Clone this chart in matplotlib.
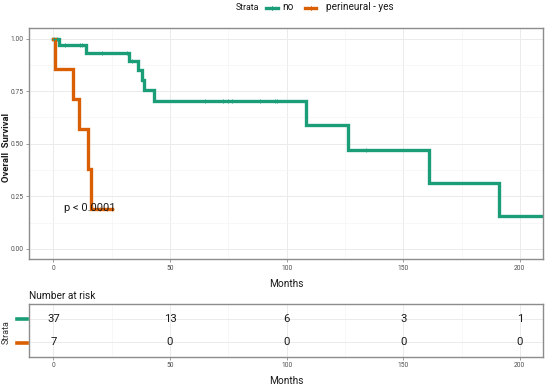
import numpy as np
import matplotlib
matplotlib.use("Agg")
import matplotlib.pyplot as plt
from matplotlib.lines import Line2D

plt.rcParams['font.family'] = ['Roboto', 'DejaVu Sans']

# Kaplan-Meier steps
no_times = [0, 2.6, 13.9, 32.4, 36.3, 38.0, 39.0, 43.2, 108.2, 126.5, 160.9, 191.0, 215]
no_surv = [1.0, 0.97, 0.93, 0.892, 0.85, 0.803, 0.755, 0.704, 0.587, 0.469, 0.313, 0.157, 0.157]
no_censor = [0.5, 1.5, 5, 11.5, 12.3, 20.7, 31.4, 33.6, 65, 72.9, 75, 76.7, 88.6, 95, 96, 133.9]

yes_times = [0, 0.8, 8.6, 11.0, 15.0, 16.0, 25.0]
yes_surv = [1.0, 0.857, 0.714, 0.571, 0.381, 0.19, 0.19]
yes_censor = [20, 22.9, 25]

risk_times = [0, 50, 100, 150, 200]
risk_no = [37, 13, 6, 3, 1]
risk_yes = [7, 0, 0, 0, 0]

GREEN = '#1B9E77'
ORANGE = '#D95F02'
W, H = 550, 387


def fx(px):
    return px / W


def fy(py):
    return 1 - py / H


def surv_at(times, surv, t):
    idx = np.searchsorted(times, t, side='right') - 1
    return surv[idx]


def style_axes(ax):
    ax.set_xlim(-10.3, 209.8)
    ax.set_xticks(risk_times)
    ax.set_xticks([25, 75, 125, 175], minor=True)
    ax.grid(True, which='major', color='#EBEBEB', linewidth=0.7)
    ax.grid(True, which='minor', color='#F4F4F4', linewidth=0.5)
    ax.set_axisbelow(True)
    for s in ax.spines.values():
        s.set_color('#8C8C8C')
        s.set_linewidth(1.0)
    ax.tick_params(which='major', length=2, width=0.6, color='#8C8C8C',
                   labelsize=4.8, labelcolor='#4D4D4D', pad=2)
    ax.tick_params(which='minor', length=0)


fig = plt.figure(figsize=(W / 100, H / 100), dpi=100)

# main survival panel
ax = fig.add_axes([fx(29.3), fy(259.3), fx(542.7) - fx(29.3), fy(28.2) - fy(259.3)])
style_axes(ax)
ax.set_ylim(-0.05, 1.05)
ax.set_yticks([0, 0.25, 0.5, 0.75, 1.0])
ax.set_yticks([0.125, 0.375, 0.625, 0.875], minor=True)
ax.set_yticklabels(['0.00', '0.25', '0.50', '0.75', '1.00'])

ax.step(no_times, no_surv, where='post', color=GREEN, linewidth=2.4,
        solid_joinstyle='miter')
ax.step(yes_times, yes_surv, where='post', color=ORANGE, linewidth=2.4,
        solid_joinstyle='miter')
ax.plot(no_censor, [surv_at(no_times, no_surv, t) for t in no_censor],
        linestyle='none', marker='+', markersize=3, mew=0.6, color=GREEN)
ax.plot(yes_censor, [surv_at(yes_times, yes_surv, t) for t in yes_censor],
        linestyle='none', marker='+', markersize=3, mew=0.6, color=ORANGE)

ax.text(4.6, 0.195, 'p < 0.0001', fontsize=8, ha='left', va='center', color='#1A1A1A')
ax.set_xlabel('Months', fontsize=7.3, color='#1A1A1A', labelpad=5)
fig.text(fx(6.3), fy(148), 'Overall  Survival', fontsize=6.8, fontweight='bold',
         rotation=90, ha='center', va='center', color='#1A1A1A')

# legend on top
fig.text(fx(236), fy(8), 'Strata', fontsize=6.3, ha='left', va='center', color='#1A1A1A')
for x0, x1, col in [(266, 278, GREEN), (305, 316, ORANGE)]:
    fig.add_artist(Line2D([fx(x0), fx(x1)], [fy(8), fy(8)], color=col, linewidth=2.4))
    fig.add_artist(Line2D([fx((x0 + x1) / 2)] * 2, [fy(6), fy(10)], color=col, linewidth=0.6))
fig.text(fx(282), fy(7.5), 'no', fontsize=7.2, ha='left', va='center', color='#1A1A1A')
fig.text(fx(326), fy(7.5), 'perineural - yes', fontsize=7.2, ha='left', va='center', color='#1A1A1A')

# risk table
rt = fig.add_axes([fx(29.3), fy(356.7), fx(542.7) - fx(29.3), fy(304.3) - fy(356.7)])
style_axes(rt)
rt.set_ylim(0.4, 2.6)
rt.set_yticks([1, 2])
rt.set_yticklabels(['', ''])
rt.tick_params(axis='y', length=0)
for t, n in zip(risk_times, risk_no):
    rt.text(t, 2, str(n), fontsize=8.2, ha='center', va='center', color='#1A1A1A')
for t, n in zip(risk_times, risk_yes):
    rt.text(t, 1, str(n), fontsize=8.2, ha='center', va='center', color='#1A1A1A')
rt.set_xlabel('Months', fontsize=7.3, color='#1A1A1A', labelpad=5)
rt.set_title('Number at risk', fontsize=7.3, loc='left', pad=4, color='#1A1A1A')

for py, col in [(319.3, GREEN), (343.3, ORANGE)]:
    fig.add_artist(Line2D([fx(17), fx(26.5)], [fy(py), fy(py)], color=col, linewidth=2.6))
fig.text(fx(6.5), fy(331.7), 'Strata', fontsize=6.5, rotation=90, ha='center', va='center',
         color='#333333')

fig.savefig('out.png', dpi=100)
